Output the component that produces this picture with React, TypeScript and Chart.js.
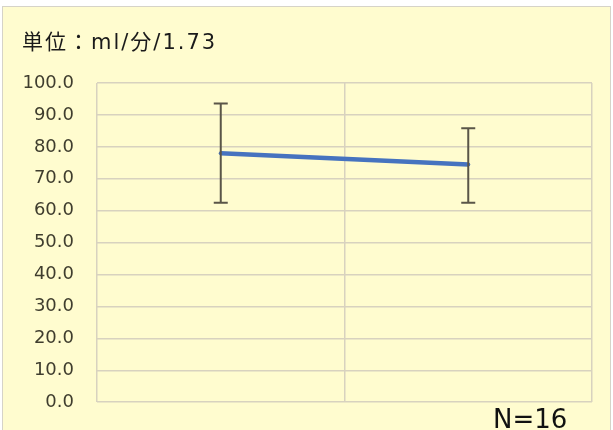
import React, { useEffect, useRef } from "react";
import { Chart, registerables } from "chart.js";

Chart.register(...registerables);

const categories = ["前", "後"];
const means = [78.0, 74.5];
const errUpper = [93.6, 85.8];
const errLower = [62.5, 62.5];
const yTicks = [0, 10, 20, 30, 40, 50, 60, 70, 80, 90, 100];
const unitLabel = "単位：ml/分/1.73";
const nLabel = "N=16";

const errorBarPlugin = {
  id: "errorBars",
  afterDatasetsDraw(chart: any) {
    const { ctx, scales } = chart;
    const x = scales.x;
    const y = scales.y;
    ctx.save();
    ctx.strokeStyle = "#5a5548";
    ctx.lineWidth = 2;
    for (let i = 0; i < categories.length; i++) {
      const px = x.getPixelForValue(i);
      const top = y.getPixelForValue(errUpper[i]);
      const bot = y.getPixelForValue(errLower[i]);
      ctx.beginPath();
      ctx.moveTo(px, top);
      ctx.lineTo(px, bot);
      ctx.moveTo(px - 7, top);
      ctx.lineTo(px + 7, top);
      ctx.moveTo(px - 7, bot);
      ctx.lineTo(px + 7, bot);
      ctx.stroke();
    }
    ctx.restore();
  },
};

export default function App() {
  const ref = useRef<HTMLCanvasElement | null>(null);
  useEffect(() => {
    document.body.style.margin = "0";
    const chart = new Chart(ref.current as HTMLCanvasElement, {
      type: "line",
      data: {
        labels: categories,
        datasets: [
          {
            data: means,
            borderColor: "#4673bf",
            backgroundColor: "#4673bf",
            borderWidth: 4.5,
            pointRadius: 2,
            pointBorderWidth: 0,
            tension: 0,
          },
        ],
      },
      options: {
        animation: false,
        responsive: false,
        devicePixelRatio: 1,
        layout: { padding: { left: 0, right: 21, top: 77, bottom: 28 } },
        plugins: { legend: { display: false }, tooltip: { enabled: false } },
        scales: {
          x: {
            offset: true,
            afterFit: (s: any) => {
              s.height = 0;
            },
            grid: { offset: true, color: "#d8d2bf", lineWidth: 1.5, drawTicks: false },
            border: { display: false },
            ticks: { display: false },
          },
          y: {
            min: 0,
            max: 100,
            afterBuildTicks: (s: any) => {
              s.ticks = yTicks.map((v) => ({ value: v }));
            },
            afterFit: (s: any) => {
              s.width = 97;
            },
            grid: { color: "#d8d2bf", lineWidth: 1.5, drawTicks: false },
            border: { display: false },
            ticks: {
              padding: 23,
              color: "#3f3d2e",
              font: { family: "DejaVu Sans", size: 18 },
              callback: (v: any) => Number(v).toFixed(1),
            },
          },
        },
      },
      plugins: [errorBarPlugin],
    });
    return () => chart.destroy();
  }, []);

  return (
    <div style={{ position: "fixed", left: 0, top: 0, width: 613, height: 430, background: "#ffffff", overflow: "hidden" }}>
      <div
        style={{
          position: "absolute",
          left: 2,
          top: 6,
          width: 609,
          height: 430,
          background: "#fffccf",
          border: "1px solid #d6d3c8",
          boxSizing: "border-box",
        }}
      />
      <canvas ref={ref} width={613} height={430} style={{ position: "absolute", left: 0, top: 6, width: 613, height: 430 }} />
      <div
        style={{
          position: "absolute",
          left: 22,
          top: 28,
          fontFamily: "'DejaVu Sans', 'Noto Sans CJK JP', sans-serif",
          fontSize: 21,
          letterSpacing: "2px",
          color: "#1a1a1a",
          whiteSpace: "nowrap",
          lineHeight: "28px",
        }}
      >
        {unitLabel}
      </div>
      <div
        style={{
          position: "absolute",
          left: 493,
          top: 403,
          fontFamily: "'DejaVu Sans', sans-serif",
          fontSize: 26,
          color: "#111111",
          whiteSpace: "nowrap",
          lineHeight: "32px",
        }}
      >
        {nLabel}
      </div>
    </div>
  );
}
